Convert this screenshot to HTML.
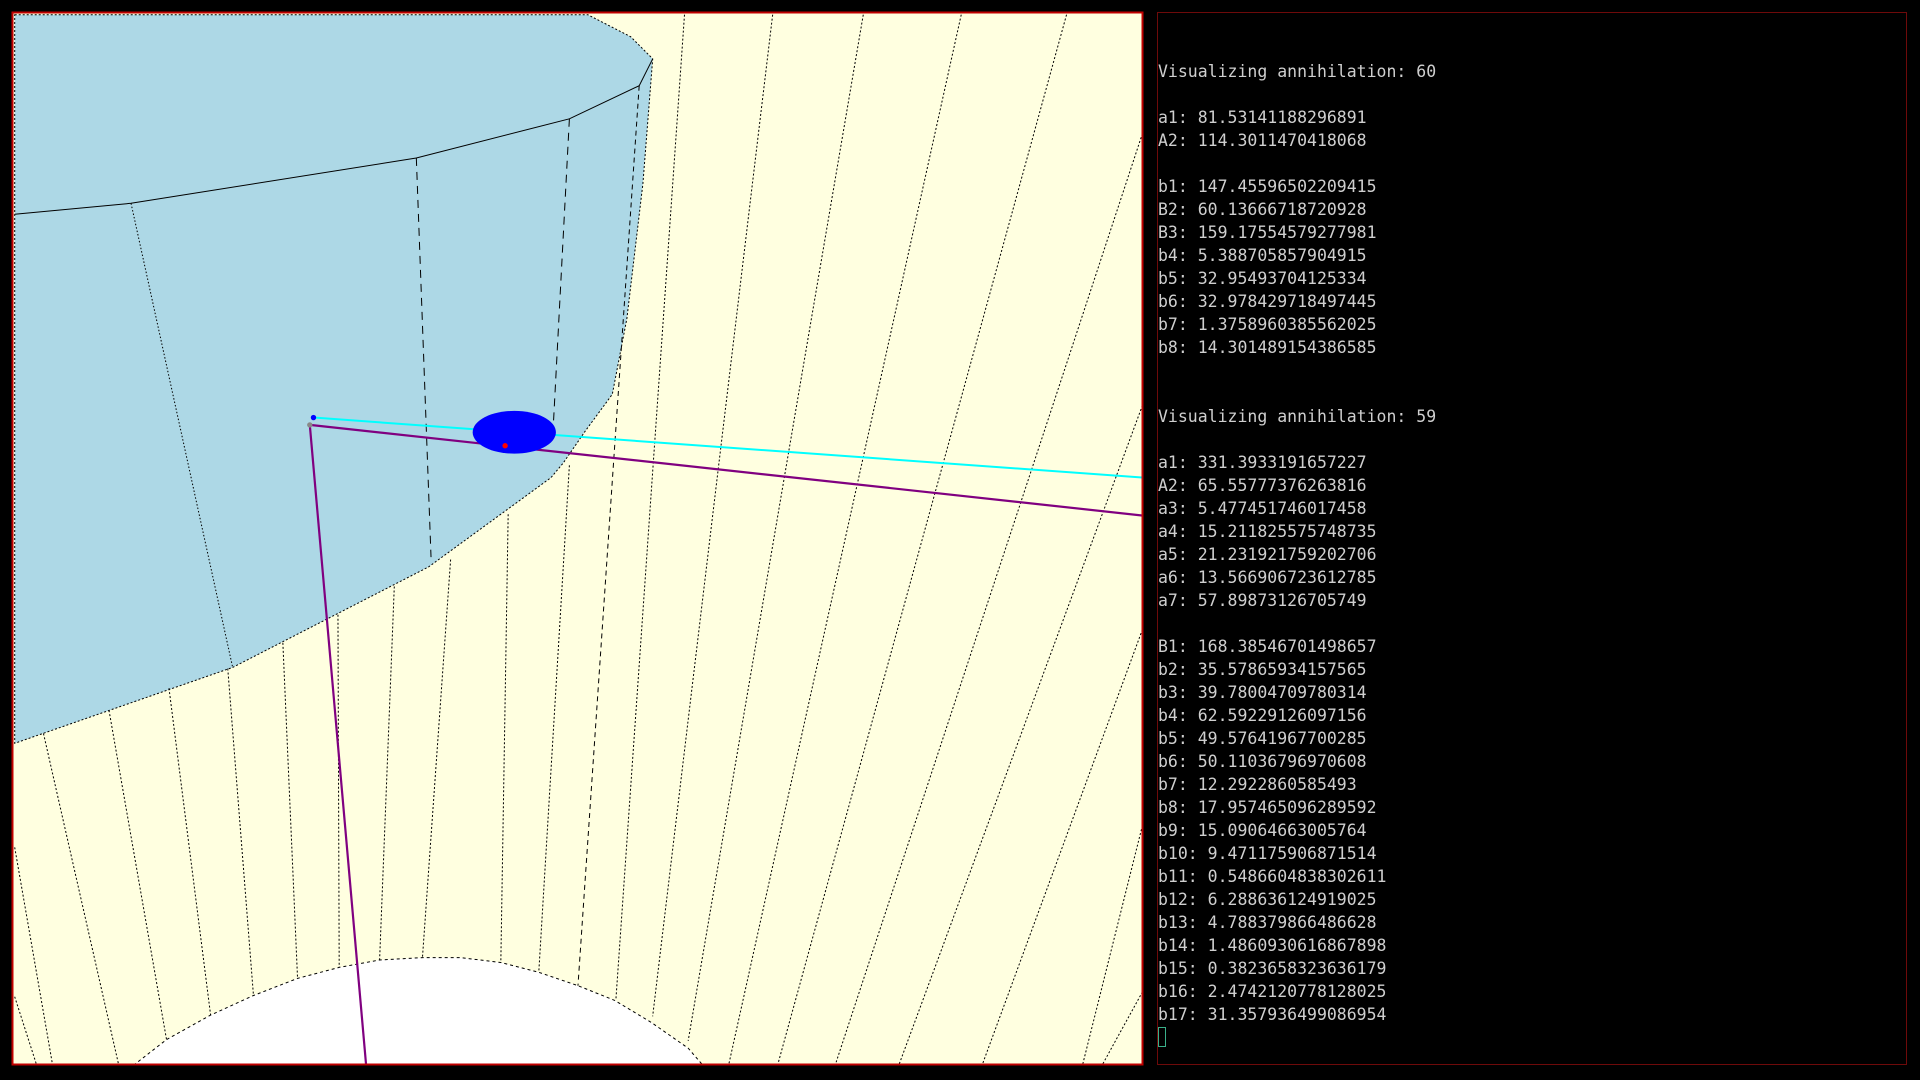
<!DOCTYPE html>
<html><head><meta charset="utf-8">
<style>
html,body{margin:0;padding:0;background:#000;width:1920px;height:1080px;overflow:hidden}
#scene{position:absolute;left:0;top:0}
#console{position:absolute;left:1157px;top:12px;width:750px;height:1053px;border:1px solid #6e0a0a;box-sizing:border-box}
#log{position:absolute;left:1158px;top:37px;margin:0;font-family:"DejaVu Sans Mono","Liberation Mono",monospace;font-size:16.5px;line-height:23px;color:#cfcfcf;white-space:pre}
#cursor{position:absolute;left:1158px;top:1027px;width:8px;height:20px;border:1px solid #3ab08a;box-sizing:border-box}
</style></head>
<body>
<svg id="scene" width="1920" height="1080" xmlns="http://www.w3.org/2000/svg">
<defs><clipPath id="vc"><rect x="13" y="13" width="1129" height="1051"/></clipPath></defs>
<rect x="13" y="13" width="1129" height="1051" fill="#ffffe0"/>
<g id="world" clip-path="url(#vc)"></g>
<rect x="12.5" y="12.5" width="1130" height="1052" fill="none" stroke="#c00000" stroke-width="2"/>
</svg>
<div id="console"></div>
<pre id="log">

Visualizing annihilation: 60

a1: 81.53141188296891
A2: 114.3011470418068

b1: 147.45596502209415
B2: 60.13666718720928
B3: 159.17554579277981
b4: 5.388705857904915
b5: 32.95493704125334
b6: 32.978429718497445
b7: 1.3758960385562025
b8: 14.301489154386585


Visualizing annihilation: 59

a1: 331.3933191657227
A2: 65.55777376263816
a3: 5.477451746017458
a4: 15.211825575748735
a5: 21.231921759202706
a6: 13.566906723612785
a7: 57.89873126705749

B1: 168.38546701498657
b2: 35.57865934157565
b3: 39.78004709780314
b4: 62.59229126097156
b5: 49.57641967700285
b6: 50.11036796970608
b7: 12.2922860585493
b8: 17.957465096289592
b9: 15.09064663005764
b10: 9.471175906871514
b11: 0.5486604838302611
b12: 6.288636124919025
b13: 4.788379866486628
b14: 1.4860930616867898
b15: 0.3823658323636179
b16: 2.4742120778128025
b17: 31.357936499086954</pre>
<div id="cursor"></div>
<script>
const S = 1.2245;
const bluePoly = [[12,12],[480,12],[515,30],[533,48],[525,150],[512,260],[500,322],[478,352],[460,378],[450,390],[350,463],[190,545],[12,607]];
const whiteArc = [[109,870],[136,849],[172,829],[207,813],[243,799],[277,790],[310,784],[345,782],[376,782],[409,786],[440,794],[472,805],[502,817],[532,835],[562,856],[574,870],[574,900],[109,900]];
const topEdge = [[12,175],[107,166],[340,129],[465,97],[522,70],[533,48]];
const blueLines = [[107,166,190,545,'1.5 2'],[340,129,352,455,'8 6'],[465,97,452,345,'8 6'],[522,70,472,805,'5 4']];
const yellowLines = [
 [35.5,599,97,870],[89,580,136,849],[138,562,172,829],[186,546,207,813],[231,525,243,799],
 [276,502,277,790],[322,479,310,784],[368,457,345,782],[415,420,409,786],[465,380,440,794],
 [559,12,503,816],[631,12,533,830],[705,12,562,850],[785,12,595,870],[871,12,635,870],
 [933,109,682,870],[933,331,734,870],[933,514,802,870],[933,674,884,870],[933,810,900,870],
 [12,692,43,870],[12,814,30,870]];
const cyanLine = [256,341,933,390];
const purpleLines = [[253,347,933,421],[253,347,299,870]];
const ellipse = [420,353,34,17.5];
const dots = [[256,341,2.2,'#0000ff','blue-dot'],[253,347,2.2,'#888888','origin-dot'],[412.5,364,2.2,'#ff0000','red-dot']];

const NS='http://www.w3.org/2000/svg';
const world=document.getElementById('world');
function mk(tag,attrs){const e=document.createElementNS(NS,tag);for(const k in attrs)e.setAttribute(k,attrs[k]);world.appendChild(e);return e;}
const pts=a=>a.map(p=>(p[0]*S).toFixed(1)+','+(p[1]*S).toFixed(1)).join(' ');

let e=mk('polygon',{points:pts(bluePoly),fill:'#add8e6',stroke:'#000','stroke-width':1,'stroke-dasharray':'2 2'});


e=mk('polygon',{points:pts(whiteArc),fill:'#ffffff',stroke:'#000','stroke-width':1,'stroke-dasharray':'3 3'});


e=mk('polyline',{points:pts(topEdge),fill:'none',stroke:'#000','stroke-width':1});


blueLines.forEach(l=>{
 const x=mk('line',{x1:l[0]*S,y1:l[1]*S,x2:l[2]*S,y2:l[3]*S,stroke:'#000','stroke-width':1,'stroke-dasharray':l[4]});
 
 
});
yellowLines.forEach(l=>{
 const x=mk('line',{x1:l[0]*S,y1:l[1]*S,x2:l[2]*S,y2:l[3]*S,stroke:'#000','stroke-width':1,'stroke-dasharray':'2 2'});
 
 
});
e=mk('line',{x1:cyanLine[0]*S,y1:cyanLine[1]*S,x2:cyanLine[2]*S,y2:cyanLine[3]*S,stroke:'#00ffff','stroke-width':2});


purpleLines.forEach(l=>{
 const x=mk('line',{x1:l[0]*S,y1:l[1]*S,x2:l[2]*S,y2:l[3]*S,stroke:'#800080','stroke-width':2.2});
 
 
});
e=mk('ellipse',{cx:ellipse[0]*S,cy:ellipse[1]*S,rx:ellipse[2]*S,ry:ellipse[3]*S,fill:'#0000ff'});


dots.forEach(d=>{
 const x=mk('circle',{cx:d[0]*S,cy:d[1]*S,r:d[2]*S,fill:d[3]});
 
 
});
</script>
</body></html>
